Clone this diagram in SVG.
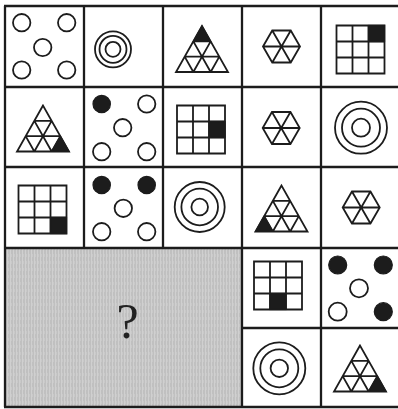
<svg xmlns="http://www.w3.org/2000/svg" xmlns:xlink="http://www.w3.org/1999/xlink" width="398" height="409" viewBox="0 0 398 409">
<style>
.ln{stroke:#1c1c1c;stroke-width:2.3;fill:none}
.sh{stroke:#1c1c1c;stroke-width:1.8;fill:none}
.fl{fill:#1c1c1c;stroke:#1c1c1c;stroke-width:1.2}
.q{font-family:"Liberation Serif","DejaVu Serif",serif;font-size:50px;fill:#222222}
</style>
<defs>
<path id="tri" class="sh" d="M0,0 L-26,46 L26,46 Z M-8.667,15.333 H8.667 M-17.333,30.667 H17.333 M-8.667,46 L8.667,15.333 M8.667,46 L17.333,30.667 M-8.667,46 L-17.333,30.667 M8.667,46 L-8.667,15.333"/>
<path id="grd" class="sh" d="M0,0 H48 V48 H0 Z M16,0 V48 M32,0 V48 M0,16 H48 M0,32 H48"/>
<path id="hex" class="sh" d="M-18.5,0 L-9.25,-16 L9.25,-16 L18.5,0 L9.25,16 L-9.25,16 Z M-18.5,0 H18.5 M-9.25,-16 L9.25,16 M9.25,-16 L-9.25,16"/>
<pattern id="tex" width="3" height="7" patternUnits="userSpaceOnUse">
<rect width="3" height="7" fill="#c0c0c0"/>
<rect x="1" width="1" height="7" fill="#d0d0d0"/>
<rect x="2" y="2" width="1" height="3" fill="#c9c9c9"/>
</pattern>
</defs>
<rect width="398" height="409" fill="#ffffff"/>
<g id="unknown">
<rect x="5" y="248" width="237" height="159" fill="url(#tex)"/>
<text class="q" x="127.5" y="338" text-anchor="middle">?</text>
</g>
<g id="r1c1">
<circle class="sh" cx="21.7" cy="22.7" r="8.7"/>
<circle class="sh" cx="66.7" cy="22.7" r="8.7"/>
<circle class="sh" cx="42.7" cy="47.5" r="8.7"/>
<circle class="sh" cx="21.7" cy="70" r="8.7"/>
<circle class="sh" cx="66.7" cy="70" r="8.7"/>
</g>
<g id="r1c2">
<circle class="sh" cx="113" cy="49.3" r="18"/>
<circle class="sh" cx="113" cy="49.3" r="13.5"/>
<circle class="sh" cx="113" cy="49.3" r="7.5"/>
</g>
<g id="r1c3">
<polygon class="fl" points="202,26 193.333,41.333 210.667,41.333"/>
<use xlink:href="#tri" transform="translate(202,26)"/>
</g>
<g id="r1c4"><use xlink:href="#hex" transform="translate(281.5,46.5)"/></g>
<g id="r1c5">
<rect class="fl" x="368.5" y="25.5" width="16" height="16"/>
<use xlink:href="#grd" transform="translate(336.5,25.5)"/>
</g>
<g id="r2c1">
<polygon class="fl" points="60.333,136.167 69,151.5 51.667,151.5"/>
<use xlink:href="#tri" transform="translate(43,105.5)"/>
</g>
<g id="r2c2">
<circle class="fl" cx="101.7" cy="104" r="8.7"/>
<circle class="sh" cx="146.7" cy="104" r="8.7"/>
<circle class="sh" cx="122.7" cy="127.7" r="8.7"/>
<circle class="sh" cx="101.7" cy="151.7" r="8.7"/>
<circle class="sh" cx="146.7" cy="151.7" r="8.7"/>
</g>
<g id="r2c3">
<rect class="fl" x="209" y="121.5" width="16" height="16"/>
<use xlink:href="#grd" transform="translate(177,105.5)"/>
</g>
<g id="r2c4"><use xlink:href="#hex" transform="translate(281.2,128)"/></g>
<g id="r2c5">
<circle class="sh" cx="361" cy="127.7" r="26"/>
<circle class="sh" cx="361" cy="127.7" r="19"/>
<circle class="sh" cx="361" cy="127.7" r="9"/>
</g>
<g id="r3c1">
<rect class="fl" x="50.5" y="217.5" width="16" height="16"/>
<use xlink:href="#grd" transform="translate(18.5,185.5)"/>
</g>
<g id="r3c2">
<circle class="fl" cx="101.7" cy="185" r="8.7"/>
<circle class="fl" cx="146.7" cy="185" r="8.7"/>
<circle class="sh" cx="123.3" cy="208.3" r="8.7"/>
<circle class="sh" cx="101.7" cy="231.7" r="8.7"/>
<circle class="sh" cx="146.7" cy="231.7" r="8.7"/>
</g>
<g id="r3c3">
<circle class="sh" cx="199.7" cy="207" r="25"/>
<circle class="sh" cx="199.7" cy="207" r="18.3"/>
<circle class="sh" cx="199.7" cy="207" r="8.3"/>
</g>
<g id="r3c4">
<polygon class="fl" points="264.167,216.167 255.5,231.5 272.833,231.5"/>
<use xlink:href="#tri" transform="translate(281.5,185.5)"/>
</g>
<g id="r3c5"><use xlink:href="#hex" transform="translate(361.2,207.5)"/></g>
<g id="r4c4">
<rect class="fl" x="270" y="293.5" width="16" height="16"/>
<use xlink:href="#grd" transform="translate(254,261.5)"/>
</g>
<g id="r4c5">
<circle class="fl" cx="337.7" cy="265" r="9"/>
<circle class="fl" cx="383.3" cy="265" r="9"/>
<circle class="sh" cx="359" cy="288.3" r="9"/>
<circle class="sh" cx="337.7" cy="311.7" r="9"/>
<circle class="fl" cx="383.3" cy="311.7" r="9"/>
</g>
<g id="r5c4">
<circle class="sh" cx="279.3" cy="368.3" r="26"/>
<circle class="sh" cx="279.3" cy="368.3" r="19"/>
<circle class="sh" cx="279.3" cy="368.3" r="8.7"/>
</g>
<g id="r5c5">
<polygon class="fl" points="377.333,376.167 386,391.5 368.667,391.5"/>
<use xlink:href="#tri" transform="translate(360,345.5)"/>
</g>
<g id="gridlines">
<path class="ln" d="M5,6 V407 M84,6 V248 M163,6 V248 M242,6 V407 M321,6 V407"/>
<path class="ln" d="M4,6 H398 M4,87 H398 M4,167 H398 M4,248 H398 M242,328 H398 M4,407 H398"/>
</g>
</svg>
